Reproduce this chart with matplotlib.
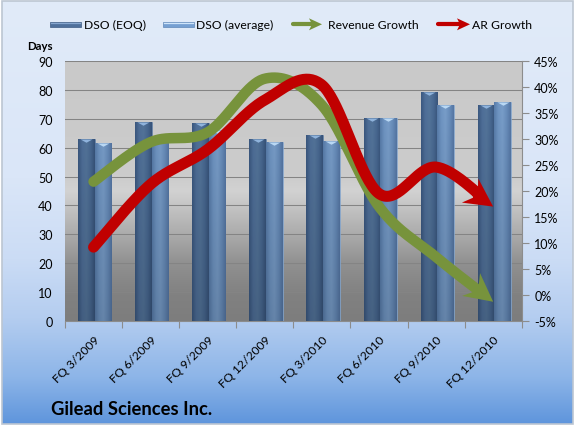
import numpy as np
import matplotlib
matplotlib.use("Agg")
import matplotlib.pyplot as plt
from matplotlib.colors import to_rgb
from matplotlib.patches import Rectangle

plt.rcParams['font.family'] = ['Lato', 'DejaVu Sans']

# ---------------- data ----------------
categories = ['FQ 3/2009', 'FQ 6/2009', 'FQ 9/2009', 'FQ 12/2009',
              'FQ 3/2010', 'FQ 6/2010', 'FQ 9/2010', 'FQ 12/2010']
dso_eoq = [62.9, 68.9, 68.4, 63.0, 64.3, 70.3, 79.2, 74.6]
dso_avg = [61.6, 64.1, 66.0, 61.8, 62.3, 70.3, 74.7, 75.7]
revenue_growth = [21.8, 29.4, 31.3, 41.6, 36.5, 17.0, 7.3, -1.3]   # %
ar_growth = [9.2, 21.3, 28.0, 37.5, 40.4, 19.5, 24.6, 17.0]        # %
days_ticks = list(range(0, 91, 10))
pct_ticks = list(range(-5, 46, 5))
legend_labels = ['DSO (EOQ)', 'DSO (average)', 'Revenue Growth', 'AR Growth']
title_text = 'Gilead Sciences Inc.'

W, H = 575, 427
PL, PR, PT, PB = 65, 521.7, 62, 322

fig = plt.figure(figsize=(W / 100, H / 100), dpi=100, facecolor='white')

# background axes in pixel coordinates
bg = fig.add_axes([0, 0, 1, 1], zorder=0)
bg.set_xlim(0, W)
bg.set_ylim(H, 0)
bg.axis('off')


def vgrad(stops, n=400):
    pos = [s[0] for s in stops]
    cols = [to_rgb(s[1]) for s in stops]
    yy = np.linspace(0, 1, n)
    arr = np.zeros((n, 1, 3))
    for c in range(3):
        arr[:, 0, c] = np.interp(yy, pos, [col[c] for col in cols])
    return arr


fig_stops = [(0, '#e1ebf9'), (0.42, '#dae6f8'), (0.61, '#cbdcf5'),
             (0.75, '#b4cdf0'), (0.89, '#8db5e8'), (1.0, '#5f95dc')]
bg.imshow(vgrad(fig_stops), extent=[2, W - 2, H - 2, 2], aspect='auto',
          interpolation='bilinear', zorder=0)
bg.add_patch(Rectangle((2, 2), W - 4, H - 4, fill=False, edgecolor='#bcc6d2',
                       linewidth=1.2, zorder=1))

plot_stops = [(0, '#c9c9c9'), (0.44, '#cccccc'), (0.5, '#d2d2d2'),
              (0.62, '#b6b6b6'), (0.78, '#909090'), (0.9, '#818181'), (1.0, '#7d7d7d')]
bg.imshow(vgrad(plot_stops), extent=[PL, PR, PB, PT], aspect='auto',
          interpolation='bilinear', zorder=1)

# ---------------- main axes ----------------
ax = fig.add_axes([PL / W, (H - PB) / H, (PR - PL) / W, (PB - PT) / H], zorder=1)
ax.set_facecolor('none')
ax.set_autoscale_on(False)
ax.set_xlim(-0.5, len(categories) - 0.5)
ax.set_ylim(0, 90)

x = np.arange(len(categories))
bw = 0.29
bars_eoq = ax.bar(x - bw / 2 + 0.02, dso_eoq, width=bw, color='#4d6e98',
                  edgecolor='#5b7ba5', linewidth=0.4, zorder=3)
bars_avg = ax.bar(x + bw / 2 + 0.02, dso_avg, width=bw, color='#7096c4',
                  edgecolor='#86a8d0', linewidth=0.4, zorder=3)


def hgrad(cols, vshade=0.82, n=64):
    cols = [np.array(to_rgb(c)) for c in cols]
    xs = np.linspace(0, 1, n)
    pos = np.linspace(0, 1, len(cols))
    row = np.zeros((n, 3))
    for c in range(3):
        row[:, c] = np.interp(xs, pos, [col[c] for col in cols])
    ys = np.linspace(1.0, vshade, 90)[:, None, None]
    return np.clip(row[None, :, :] * ys, 0, 1)


img_eoq = hgrad(['#3c5a83', '#51729d', '#56789f', '#4a6b95', '#39567e'])
img_avg = hgrad(['#5a7fae', '#7299c8', '#7ca2cf', '#6b91c0', '#5779a8'])
for bars, img in ((bars_eoq, img_eoq), (bars_avg, img_avg)):
    for b in bars:
        x0 = b.get_x()
        im = ax.imshow(img, extent=[x0, x0 + b.get_width(), 0, 90], aspect='auto',
                       origin='upper', interpolation='bilinear', zorder=3.5)
        im.set_clip_path(b)

cap = [(-1, 0), (1, 0), (0, -0.55)]
ax.plot(x - bw / 2 + 0.02, dso_eoq, linestyle='none', marker=cap, markersize=8.5,
        color='#8fb3dc', markeredgewidth=0, zorder=4)
ax.plot(x + bw / 2 + 0.02, dso_avg, linestyle='none', marker=cap, markersize=8.5,
        color='#b9d8f4', markeredgewidth=0, zorder=4)

ax.set_yticks(days_ticks)
ax.yaxis.grid(True, color='#848484', linewidth=0.75)
ax.set_axisbelow(True)
ax.tick_params(axis='y', length=0, pad=9, labelsize=9, colors='black')
ax.set_xticks(x)
ax.set_xticklabels(categories, rotation=45, ha='right', rotation_mode='anchor',
                   va='top', fontsize=8.7)
ax.tick_params(axis='x', which='major', length=0, pad=9)
ax.set_xticks(np.arange(-0.5, len(categories)), minor=True)
ax.tick_params(axis='x', which='minor', length=5, color='#8c8c8c', width=0.8)
for s in ('left', 'top', 'right'):
    ax.spines[s].set_visible(False)
ax.spines['bottom'].set_color('#8c8c8c')
ax.spines['bottom'].set_linewidth(0.8)

# ---------------- secondary axis ----------------
ax2 = ax.twinx()
ax2.set_autoscale_on(False)
ax2.set_ylim(-5, 45)
ax2.set_yticks(pct_ticks)
ax2.set_yticklabels([f'{t}%' for t in pct_ticks])
ax2.tick_params(axis='y', length=5, color='#8c8c8c', width=0.8, pad=4, labelsize=9)
for s in ('left', 'top', 'bottom'):
    ax2.spines[s].set_visible(False)
ax2.spines['right'].set_color('#8c8c8c')
ax2.spines['right'].set_linewidth(0.8)


def catmull_rom(xs, ys, n=40):
    P = np.column_stack([xs, ys]).astype(float)
    P = np.vstack([P[0], P, P[-1]])
    out = []
    for i in range(1, len(P) - 2):
        p0, p1, p2, p3 = P[i - 1], P[i], P[i + 1], P[i + 2]
        t = np.linspace(0, 1, n, endpoint=(i == len(P) - 3))[:, None]
        pts = 0.5 * (2 * p1 + (-p0 + p2) * t + (2 * p0 - 5 * p1 + 4 * p2 - p3) * t ** 2
                     + (-p0 + 3 * p1 - 3 * p2 + p3) * t ** 3)
        out.append(pts)
    return np.vstack(out)


def arrow_line(axis, xs, ys, color, lw_px, L=28, hw=14.5, notch=19, z=5):
    pts = catmull_rom(xs, ys)
    tr = axis.transData
    disp = tr.transform(pts)
    tip = disp[-1]
    tang = tr.transform(np.array([xs[-1], ys[-1]])) - tr.transform(
        np.array([xs[-1] - (xs[-1] - xs[-2]) * 0.1, ys[-1] - (ys[-1] - ys[-2]) * 0.1]))
    d = tang / np.hypot(*tang)
    nrm = np.array([-d[1], d[0]])
    dist = np.hypot(*(disp - tip).T)
    keep = dist > notch - 1
    keep[-1] = False
    line = np.vstack([disp[keep], tip - d * (notch - 1)])
    line_data = tr.inverted().transform(line)
    axis.plot(line_data[:, 0], line_data[:, 1], color=color, linewidth=lw_px * 0.72,
              solid_capstyle='round', solid_joinstyle='round', zorder=z)
    head = np.array([tip, tip - L * d + hw * nrm, tip - notch * d, tip - L * d - hw * nrm])
    hd = tr.inverted().transform(head)
    axis.fill(hd[:, 0], hd[:, 1], color=color, linewidth=0, zorder=z)


arrow_line(ax2, x, revenue_growth, '#77933c', 10.5, z=5)
arrow_line(ax2, x, ar_growth, '#c00000', 11, z=6)

# ---------------- legend (pixel coords) ----------------
ly = 25.3
bg.add_patch(Rectangle((50, ly - 2.8), 31, 5.6, facecolor='#4f709b',
                       edgecolor='#3d5b84', linewidth=0.5, zorder=3))
bg.plot([51, 80], [ly - 1.6, ly - 1.6], color='#86a6cf', linewidth=0.9, zorder=4)
bg.text(84, ly, legend_labels[0], fontsize=8.7, va='center', ha='left', zorder=4)
bg.add_patch(Rectangle((162.5, ly - 2.8), 31, 5.6, facecolor='#76a0d2',
                       edgecolor='#5f87b8', linewidth=0.5, zorder=3))
bg.plot([163.5, 192.5], [ly - 1.6, ly - 1.6], color='#cfe5fa', linewidth=0.9, zorder=4)
bg.text(196.5, ly, legend_labels[1], fontsize=8.7, va='center', ha='left', zorder=4)


def legend_arrow(x0, x1, color):
    bg.plot([x0, x1 - 10], [ly, ly], color=color, linewidth=4.2 * 0.72,
            solid_capstyle='round', zorder=4)
    bg.fill([x1, x1 - 13, x1 - 10, x1 - 13], [ly, ly - 6, ly, ly + 6],
            color=color, linewidth=0, zorder=4)


legend_arrow(293, 322, '#77933c')
bg.text(328, ly, legend_labels[2], fontsize=8.7, va='center', ha='left', zorder=4)
legend_arrow(438, 470, '#c00000')
bg.text(472, ly, legend_labels[3], fontsize=8.7, va='center', ha='left', zorder=4)

# ---------------- titles ----------------
bg.text(27, 47, 'Days', fontsize=8.2, fontweight='bold', va='center', ha='left', zorder=4)
bg.text(51, 410, title_text, fontsize=13.2, fontweight='bold', va='center', ha='left',
        zorder=4)

fig.savefig('out.png', dpi=100, facecolor='white')
